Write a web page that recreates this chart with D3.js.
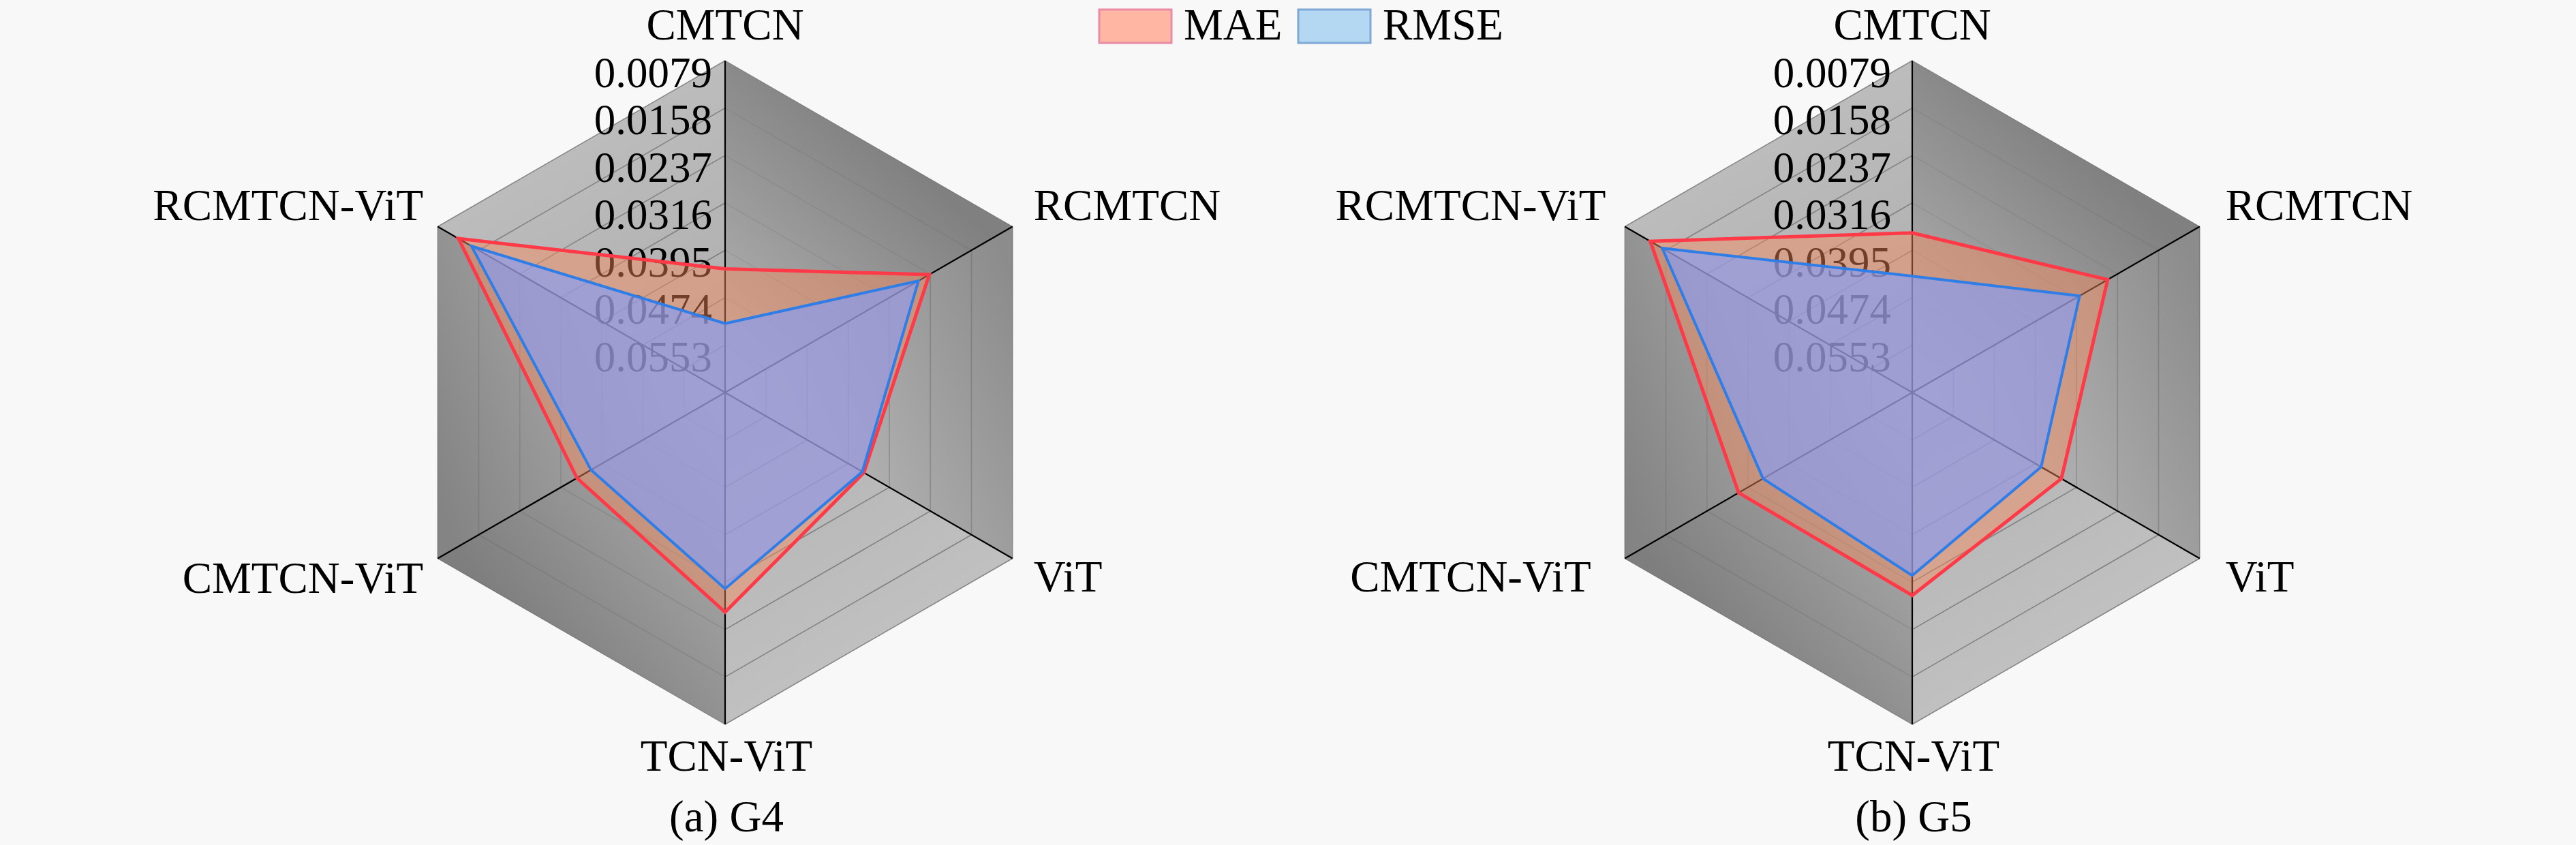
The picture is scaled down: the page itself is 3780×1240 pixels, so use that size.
<!DOCTYPE html>
<html>
<head>
<meta charset="utf-8">
<script src="https://cdn.jsdelivr.net/npm/d3@7/dist/d3.min.js"></script>
<style>
  html, body { margin: 0; padding: 0; background: #f8f8f8; }
  svg { display: block; }
</style>
</head>
<body>
<svg id="chart" width="3780" height="1240" font-family="'Liberation Serif', Tinos, 'Times New Roman', 'DejaVu Serif', serif"></svg>
<script>
// ---------------- data ----------------
const axisNames = ["CMTCN", "RCMTCN", "ViT", "TCN-ViT", "CMTCN-ViT", "RCMTCN-ViT"];
const tickValues = [0.0079, 0.0158, 0.0237, 0.0316, 0.0395, 0.0474, 0.0553];
const tickLabels = ["0.0079", "0.0158", "0.0237", "0.0316", "0.0395", "0.0474", "0.0553"];
const axisCenterValue = 0.0632;
const seriesNames = ["MAE", "RMSE"];
const panelTitles = ["(a) G4", "(b) G5"];
const g4MAE  = [0.0426, 0.0239, 0.0365, 0.0266, 0.0347, 0.0119];
const g4RMSE = [0.0517, 0.0260, 0.0368, 0.0305, 0.0374, 0.0144];
const g5MAE  = [0.0366, 0.0256, 0.0345, 0.0294, 0.0298, 0.0128];
const g5RMSE = [0.0438, 0.0310, 0.0384, 0.0327, 0.0345, 0.0151];

// ---------------- layout / style ----------------
const FONT = "'Liberation Serif', Tinos, 'Times New Roman', 'DejaVu Serif', serif";
const svg = d3.select("#chart");
const R = 487, CY = 576;
const panels = [
  { cx: 1064, title: panelTitles[0], mae: g4MAE, rmse: g4RMSE, tickGap: 19, rightGap: 31, leftGap: 21, leftCenter: null },
  { cx: 2806, title: panelTitles[1], mae: g5MAE, rmse: g5RMSE, tickGap: 31, rightGap: 38, leftGap: 24, leftCenter: 2158 }
];
const seriesStyle = [
  { fill: "rgba(250,138,92,0.45)", stroke: "#ff3a48", width: 5, swFill: "#ffb7a4", swStroke: "#e98aa6" },
  { fill: "rgba(128,158,255,0.62)", stroke: "#2f7de6", width: 4, swFill: "#b4d8f2", swStroke: "#7ea8d6" }
];
// per-sector shading: direction toward point t along outer edge, inner->outer grey; ring visibility
const sectorShade = [
  { t: 0.70, c0: 184, c1: 128, ring: 0.12 },
  { t: 0.15, c0: 192, c1: 140, ring: 0.32 },
  { t: 0.50, c0: 178, c1: 192, ring: 0.55 },
  { t: 0.85, c0: 182, c1: 126, ring: 0.18 },
  { t: 0.20, c0: 184, c1: 132, ring: 0.22 },
  { t: 0.50, c0: 172, c1: 188, ring: 0.5 }
];
const grey = v => `rgb(${v},${v},${v})`;

const n = axisNames.length;
const angle = i => (-90 + 360 / n * i) * Math.PI / 180;
const rScale = d3.scaleLinear().domain([axisCenterValue, tickValues[0]]).range([0, R]);
const defs = svg.append("defs");

function addText(g, x, y, anchor, size, str) {
  return g.append("text").attr("x", x).attr("y", y)
    .attr("text-anchor", anchor).attr("font-size", size)
    .attr("font-family", FONT).attr("fill", "#000").text(str);
}

panels.forEach((p, pi) => {
  const g = svg.append("g");
  const pt = (i, r) => [p.cx + r * Math.cos(angle(i)), CY + r * Math.sin(angle(i))];

  // background sectors with gradients
  d3.range(n).forEach(i => {
    const A = pt(i, R), B = pt((i + 1) % n, R);
    const s = sectorShade[i];
    const P = [A[0] + s.t * (B[0] - A[0]), A[1] + s.t * (B[1] - A[1])];
    const id = `sec-${pi}-${i}`;
    const lg = defs.append("linearGradient").attr("id", id)
      .attr("gradientUnits", "userSpaceOnUse")
      .attr("x1", p.cx).attr("y1", CY).attr("x2", P[0]).attr("y2", P[1]);
    lg.append("stop").attr("offset", 0).attr("stop-color", grey(s.c0));
    lg.append("stop").attr("offset", 1).attr("stop-color", grey(s.c1));
    g.append("path")
      .attr("d", d3.line()([[p.cx, CY], A, B]) + "Z")
      .attr("fill", `url(#${id})`)
      .attr("stroke", `url(#${id})`).attr("stroke-width", 1);
  });

  // split rings, drawn per sector with varying visibility
  tickValues.forEach(v => {
    const r = rScale(v);
    d3.range(n).forEach(i => {
      g.append("path")
        .attr("d", d3.line()([pt(i, r), pt((i + 1) % n, r)]))
        .attr("fill", "none")
        .attr("stroke", `rgba(80,80,80,${sectorShade[i].ring})`)
        .attr("stroke-width", 1.6);
    });
  });

  // axis lines
  d3.range(n).forEach(i => {
    const e = pt(i, R);
    g.append("line")
      .attr("x1", p.cx).attr("y1", CY).attr("x2", e[0]).attr("y2", e[1])
      .attr("stroke", "#000").attr("stroke-width", 2.2);
  });

  // tick labels (under the series)
  tickValues.forEach((v, k) => {
    addText(g, p.cx - p.tickGap, CY - rScale(v) + 38.5, "end", 63, tickLabels[k]);
  });

  // series
  [p.mae, p.rmse].forEach((vals, si) => {
    const st = seriesStyle[si];
    const pts = vals.map((v, i) => pt(i, rScale(v)));
    g.append("path")
      .attr("d", d3.line()(pts) + "Z")
      .attr("fill", st.fill)
      .attr("stroke", st.stroke)
      .attr("stroke-width", st.width)
      .attr("stroke-linejoin", "miter");
  });

  // axis names
  const xr = p.cx + R * Math.cos(angle(1));
  const xl = p.cx + R * Math.cos(angle(5));
  const yUp = CY + R * Math.sin(angle(1));
  const yDn = CY + R * Math.sin(angle(2));
  const nameAttrs = [
    { x: p.cx, y: 58, a: "middle" },
    { x: xr + p.rightGap, y: yUp - 10, a: "start" },
    { x: xr + p.rightGap, y: yDn + 48, a: "start" },
    { x: p.cx + 2, y: 1131, a: "middle" },
    p.leftCenter ? { x: p.leftCenter, y: yDn + 48, a: "middle" } : { x: xl - p.leftGap, y: yDn + 50, a: "end" },
    p.leftCenter ? { x: p.leftCenter, y: yUp - 10, a: "middle" } : { x: xl - p.leftGap, y: yUp - 10, a: "end" }
  ];
  axisNames.forEach((name, i) => {
    const o = nameAttrs[i];
    addText(g, o.x, o.y, o.a, 65, name);
  });

  // panel title
  addText(g, p.cx + 2, 1220, "middle", 65, p.title);
});

// legend
const legendX = [1613, 1905];
seriesNames.forEach((name, si) => {
  const st = seriesStyle[si];
  const lg = svg.append("g");
  lg.append("rect").attr("x", legendX[si]).attr("y", 14).attr("width", 106).attr("height", 49)
    .attr("fill", st.swFill).attr("stroke", st.swStroke).attr("stroke-width", 3);
  addText(lg, legendX[si] + 124, 58, "start", 65, name);
});
</script>
</body>
</html>
